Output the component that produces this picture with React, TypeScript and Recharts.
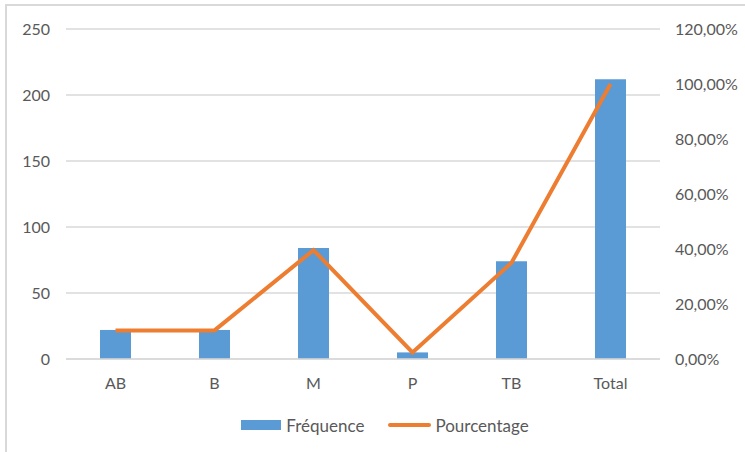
import {
  Bar,
  CartesianGrid,
  ComposedChart,
  Legend,
  Line,
  XAxis,
  YAxis,
} from "recharts";

const categories = ["AB", "B", "M", "P", "TB", "Total"];
const frequence = [22, 22, 84, 5, 74, 212];
const pourcentage = [10.4, 10.4, 39.6, 2.4, 35.0, 100];
const leftTicks = [0, 50, 100, 150, 200, 250];
const rightTicks = [0, 20, 40, 60, 80, 100, 120];

const data = categories.map((c, i) => ({
  name: c,
  freq: frequence[i],
  pct: pourcentage[i],
}));

const FONT = "Lato, 'Open Sans', sans-serif";
const TEXT = "#595959";

function LegendContent() {
  return (
    <div
      style={{
        display: "flex",
        justifyContent: "center",
        alignItems: "center",
        fontFamily: FONT,
        fontSize: 17,
        color: TEXT,
        height: 30,
        paddingLeft: 25,
      }}
    >
      <span style={{ display: "inline-block", width: 40, height: 10, background: "#5B9BD5", marginRight: 5 }} />
      <span style={{ marginRight: 24 }}>Fréquence</span>
      <span style={{ display: "inline-block", width: 43, height: 4, borderRadius: 2, background: "#ED7D31", marginRight: 4 }} />
      <span>Pourcentage</span>
    </div>
  );
}

const fmtPct = (v: number) => `${v.toFixed(2).replace(".", ",")}%`;

export default function App() {
  return (
    <div style={{ position: "fixed", left: 0, top: 0, width: 745, height: 452, background: "#fff" }}>
      <div
        style={{
          position: "absolute",
          left: 5,
          top: 4,
          right: -4,
          bottom: -4,
          borderLeft: "2px solid #d9d9d9",
          borderTop: "2px solid #d9d9d9",
        }}
      />
      <ComposedChart
        width={745}
        height={452}
        data={data}
        margin={{ top: 29, right: 0, bottom: 12, left: 0 }}
        style={{ position: "absolute", left: 0, top: 0 }}
      >
        <CartesianGrid vertical={false} stroke="#d9d9d9" strokeWidth={1.5} yAxisId="left" />
        <XAxis
          dataKey="name"
          axisLine={{ stroke: "#d9d9d9", strokeWidth: 1.5 }}
          tickLine={false}
          height={51}
          tickMargin={13}
          tick={{ fill: TEXT, fontSize: 16, fontFamily: FONT }}
        />
        <YAxis
          yAxisId="left"
          orientation="left"
          domain={[0, 250]}
          ticks={leftTicks}
          width={66}
          axisLine={false}
          tickLine={false}
          tickMargin={10}
          tick={{ fill: TEXT, fontSize: 16, fontFamily: FONT }}
        />
        <YAxis
          yAxisId="right"
          orientation="right"
          domain={[0, 120]}
          ticks={rightTicks}
          width={85}
          axisLine={false}
          tickLine={false}
          tickMargin={9}
          tickFormatter={fmtPct}
          tick={{ fill: TEXT, fontSize: 16, fontFamily: FONT, textAnchor: "start" }}
        />
        <Legend verticalAlign="bottom" height={30} content={<LegendContent />} />
        <Bar
          yAxisId="left"
          dataKey="freq"
          name="Fréquence"
          fill="#5B9BD5"
          barSize={31}
          isAnimationActive={false}
        />
        <Line
          yAxisId="right"
          dataKey="pct"
          name="Pourcentage"
          type="linear"
          stroke="#ED7D31"
          strokeWidth={4}
          dot={false}
          activeDot={false}
          isAnimationActive={false}
        />
      </ComposedChart>
    </div>
  );
}
